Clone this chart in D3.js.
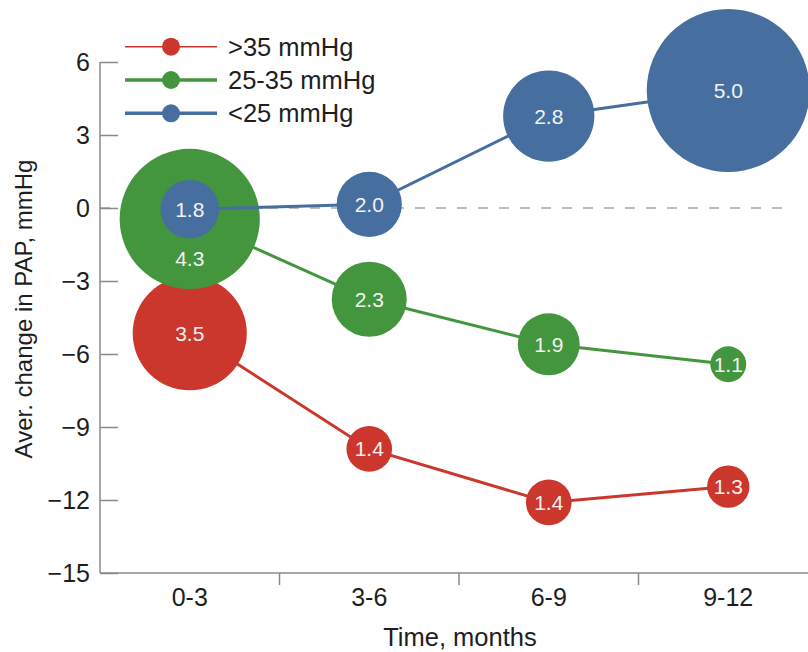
<!DOCTYPE html>
<html>
<head>
<meta charset="utf-8">
<script src="https://cdn.jsdelivr.net/npm/d3@7"></script>
<style>
  html, body { margin: 0; padding: 0; background: #fff; }
  svg { display: block; font-family: "Liberation Sans", Arial, Helvetica, sans-serif; }
</style>
</head>
<body>
<svg id="chart" width="808" height="652"></svg>
<script>
// ---- data ----
const categories = ["0-3", "3-6", "6-9", "9-12"];
const seriesNames = [">35 mmHg", "25-35 mmHg", "<25 mmHg"];
const seriesColors = ["#cc372d", "#43963e", "#466fa0"];
// average change in PAP (y)
const changeHigh = [-5.15, -9.9, -12.1, -11.45];
const changeMid  = [-0.45, -3.75, -5.6, -6.42];
const changeLow  = [-0.05, 0.15, 3.78, 4.83];
// bubble size labels
const sizeHigh = [3.5, 1.4, 1.4, 1.3];
const sizeMid  = [4.3, 2.3, 1.9, 1.1];
const sizeLow  = [1.8, 2.0, 2.8, 5.0];
const yTicks = [6, 3, 0, -3, -6, -9, -12, -15];

const series = [
  { name: seriesNames[0], color: seriesColors[0], values: changeHigh, sizes: sizeHigh, legendWidth: 1.5 },
  { name: seriesNames[1], color: seriesColors[1], values: changeMid,  sizes: sizeMid,  legendWidth: 3.5 },
  { name: seriesNames[2], color: seriesColors[2], values: changeLow,  sizes: sizeLow,  legendWidth: 3.5 }
];

const svg = d3.select("#chart");
const mLeft = 100, mRight = 818, mTop = 62, mBottom = 573;

const x = d3.scalePoint().domain(categories).range([mLeft, mRight]).padding(0.5);
const y = d3.scaleLinear().domain([-15, 6]).range([mBottom, mTop]);
const r = d3.scaleLinear().domain([0, 5]).range([0, 81.5]);
const axisColor = "#8a8a8a";
const textColor = "#1e1e1e";

// zero dashed reference line
svg.append("line")
  .attr("x1", mLeft).attr("x2", 792)
  .attr("y1", y(0)).attr("y2", y(0))
  .attr("stroke", "#a8a8a8").attr("stroke-width", 1.5)
  .attr("stroke-dasharray", "10,11");

// y axis
const yAxis = svg.append("g").attr("transform", `translate(${mLeft},0)`)
  .call(d3.axisLeft(y).tickValues(yTicks).tickSize(-18).tickPadding(10));
yAxis.select(".domain").attr("stroke", axisColor).attr("stroke-width", 1.5)
  .attr("d", `M0,${y(6)}V${mBottom}`);
yAxis.selectAll(".tick line").attr("stroke", axisColor).attr("stroke-width", 1.5);
yAxis.selectAll(".tick text").attr("fill", textColor).style("font-size", "25px")
  .style("font-family", "Liberation Sans, Arial, sans-serif");

// x axis
const step = x.step();
const boundaries = categories.slice(1).map(c => x(c) - step / 2);
const xAxis = svg.append("g").attr("transform", `translate(0,${mBottom})`);
xAxis.append("line").attr("x1", mLeft).attr("x2", 808).attr("y1", 0).attr("y2", 0)
  .attr("stroke", axisColor).attr("stroke-width", 1.5);
xAxis.selectAll("line.b").data(boundaries).join("line").attr("class", "b")
  .attr("x1", d => d).attr("x2", d => d).attr("y1", 0).attr("y2", 12)
  .attr("stroke", axisColor).attr("stroke-width", 1.5);
xAxis.selectAll("text").data(categories).join("text")
  .attr("x", d => x(d)).attr("y", 33)
  .attr("text-anchor", "middle").attr("fill", textColor)
  .style("font-size", "25px").text(d => d);

// axis titles
svg.append("text").attr("x", 460).attr("y", 646).attr("text-anchor", "middle")
  .attr("fill", textColor).style("font-size", "25.5px").text("Time, months");
svg.append("text").attr("transform", `translate(32,309) rotate(-90)`)
  .attr("text-anchor", "middle").attr("fill", textColor)
  .style("font-size", "24px").text("Aver. change in PAP, mmHg");

// series
const line = d3.line().x(d => x(d.cat)).y(d => y(d.v));
series.forEach((s, si) => {
  const pts = categories.map((c, i) => ({ cat: c, v: s.values[i], size: s.sizes[i] }));
  const g = svg.append("g");
  g.append("path").datum(pts).attr("d", line)
    .attr("fill", "none").attr("stroke", s.color).attr("stroke-width", 3);
  g.selectAll("circle").data(pts).join("circle")
    .attr("cx", d => x(d.cat)).attr("cy", d => y(d.v)).attr("r", d => r(d.size))
    .attr("fill", s.color);
});

// labels (drawn last so they sit on top); a label whose centre is covered by a
// later-drawn bubble is moved down below that bubble
series.forEach((s, si) => {
  categories.forEach((c, i) => {
    let ly = y(s.values[i]);
    for (let sj = si + 1; sj < series.length; sj++) {
      const oy = y(series[sj].values[i]), orad = r(series[sj].sizes[i]);
      if (Math.abs(oy - ly) < orad) {
        ly = (oy + orad + ly + r(s.sizes[i])) / 2 - 5;
      }
    }
    svg.append("text").attr("x", x(c)).attr("y", ly)
      .attr("text-anchor", "middle").attr("dominant-baseline", "central")
      .attr("fill", "#f2f2f2").style("font-size", "21px")
      .text(d3.format(".1f")(s.sizes[i]));
  });
});

// legend
const legend = svg.append("g");
series.forEach((s, i) => {
  const ly = 46.7 + i * 33.3;
  legend.append("line").attr("x1", 125).attr("x2", 217).attr("y1", ly).attr("y2", ly)
    .attr("stroke", s.color).attr("stroke-width", s.legendWidth);
  legend.append("circle").attr("cx", 171).attr("cy", ly).attr("r", 9).attr("fill", s.color);
  legend.append("text").attr("x", 228).attr("y", ly).attr("dominant-baseline", "central")
    .attr("fill", textColor).style("font-size", "25.5px").text(s.name);
});
</script>
</body>
</html>
